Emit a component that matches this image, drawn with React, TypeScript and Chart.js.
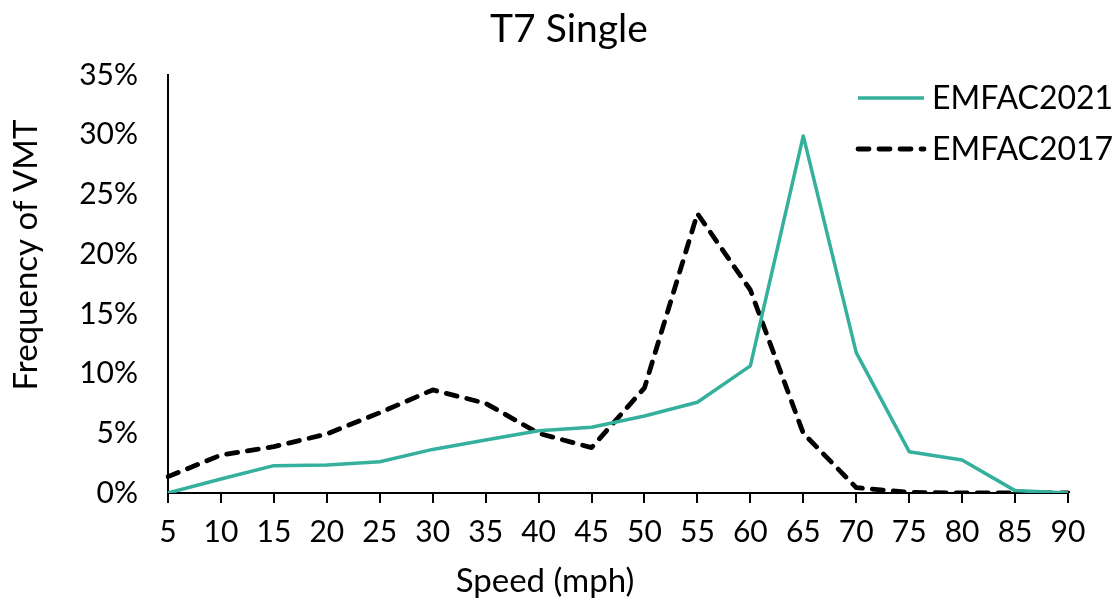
import React, { useEffect, useRef } from "react";
import { Chart, registerables } from "chart.js";

Chart.register(...registerables);

const speeds = ["5", "10", "15", "20", "25", "30", "35", "40", "45", "50", "55", "60", "65", "70", "75", "80", "85", "90"];
const emfac2021 = [0, 1.17, 2.29, 2.35, 2.62, 3.65, 4.44, 5.22, 5.5, 6.45, 7.6, 10.64, 29.9, 11.75, 3.46, 2.76, 0.2, 0];
const emfac2017 = [1.37, 3.18, 3.88, 4.94, 6.73, 8.63, 7.51, 5.0, 3.8, 8.8, 23.4, 17.0, 5.0, 0.45, 0.05, 0, 0, 0];
const yMax = 35;
const yStep = 5;

const chartTitle = "T7 Single";
const xTitle = "Speed (mph)";
const yTitle = "Frequency of VMT";
const seriesNames = ["EMFAC2021", "EMFAC2017"];

const TEAL = "#35B09C";
const FONT = "Lato, 'Open Sans', sans-serif";

const overlayPlugin = {
  id: "overlay",
  afterDraw(chart: any) {
    const ctx = chart.ctx;
    ctx.save();
    ctx.fillStyle = "#000";
    ctx.textBaseline = "alphabetic";
    ctx.textAlign = "center";

    // chart title
    ctx.font = `39px ${FONT}`;
    ctx.fillText(chartTitle, 569, 41.5);

    // x-axis title
    ctx.font = `33px ${FONT}`;
    ctx.fillText(xTitle, 545, 592);

    // y-axis title
    ctx.save();
    ctx.translate(37, 255);
    ctx.rotate(-Math.PI / 2);
    ctx.font = `33px ${FONT}`;
    ctx.fillText(yTitle, 0, 0);
    ctx.restore();
    ctx.restore();

    // legend
    ctx.save();
    const rows = [98, 149];
    const baselines = [108.5, 159.5];
    chart.data.datasets.forEach((ds: any, i: number) => {
      const y = rows[i];
      ctx.beginPath();
      ctx.strokeStyle = ds.borderColor;
      ctx.lineWidth = ds.borderWidth;
      ctx.lineCap = ds.borderCapStyle || "butt";
      ctx.setLineDash(ds.borderDash || []);
      ctx.moveTo(858, y);
      ctx.lineTo(924, y);
      ctx.stroke();
      ctx.setLineDash([]);
      ctx.fillStyle = "#000";
      ctx.font = `32px ${FONT}`;
      ctx.textAlign = "left";
      ctx.textBaseline = "alphabetic";
      ctx.fillText(ds.label, 932, baselines[i]);
    });
    ctx.restore();
  },
};

export default function App() {
  const ref = useRef<HTMLCanvasElement>(null);

  useEffect(() => {
    document.body.style.margin = "0";
    const canvas = ref.current;
    if (!canvas) return;
    const chart = new Chart(canvas, {
      type: "line",
      data: {
        labels: speeds,
        datasets: [
          {
            label: seriesNames[0],
            data: emfac2021,
            borderColor: TEAL,
            backgroundColor: TEAL,
            borderWidth: 3.5,
            pointRadius: 0,
            tension: 0,
            borderJoinStyle: "round",
          },
          {
            label: seriesNames[1],
            data: emfac2017,
            borderColor: "#000",
            backgroundColor: "#000",
            borderWidth: 4.8,
            borderDash: [11, 10],
            borderCapStyle: "round",
            borderJoinStyle: "round",
            pointRadius: 0,
            tension: 0,
          },
        ],
      },
      options: {
        responsive: false,
        animation: false,
        layout: { padding: { left: 0, right: 49, top: 75, bottom: 0 } },
        plugins: {
          legend: { display: false },
          tooltip: { enabled: false },
          title: { display: false },
        },
        scales: {
          x: {
            type: "category",
            offset: false,
            grid: {
              display: true,
              drawOnChartArea: false,
              drawTicks: true,
              tickLength: 10,
              color: "#000",
              lineWidth: 2,
            },
            border: { display: true, color: "#000", width: 2 },
            ticks: {
              color: "#000",
              font: { family: FONT, size: 30 },
              padding: 11,
              maxRotation: 0,
              autoSkip: false,
            },
            afterFit(scale: any) {
              scale.height = 115;
            },
          },
          y: {
            min: 0,
            max: yMax,
            grid: { display: false, drawTicks: false },
            border: { display: true, color: "#000", width: 2 },
            ticks: {
              stepSize: yStep,
              color: "#000",
              font: { family: FONT, size: 30 },
              padding: 30,
              callback: (v: any) => `${v}%`,
            },
            afterFit(scale: any) {
              scale.width = 168;
            },
          },
        },
      },
      plugins: [overlayPlugin],
    });
    return () => chart.destroy();
  }, []);

  return (
    <div style={{ position: "absolute", left: 0, top: 0, width: 1117, height: 608, background: "#fff" }}>
      <canvas ref={ref} width={1117} height={608} />
    </div>
  );
}
